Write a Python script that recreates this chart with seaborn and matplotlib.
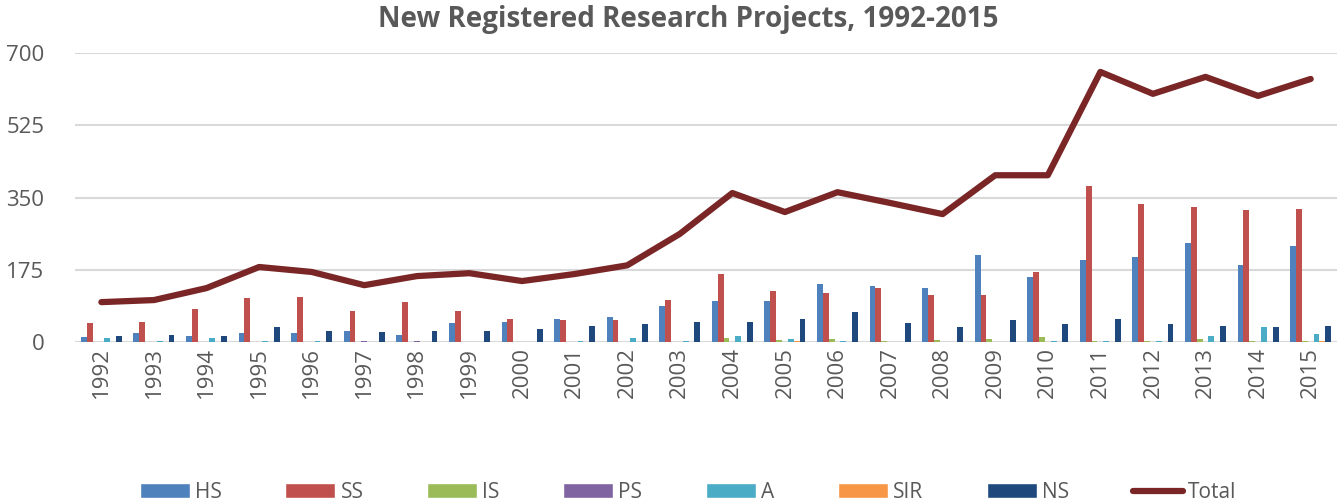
import numpy as np
import pandas as pd
import seaborn as sns
import matplotlib.pyplot as plt
from matplotlib.patches import Patch
from matplotlib.lines import Line2D

years = [str(y) for y in range(1992, 2016)]
fields = ["HS", "SS", "IS", "PS", "A", "SIR", "NS"]

hs = [13, 23, 16, 23, 22, 28, 17, 47, 48, 55, 60, 88, 99, 99, 140, 136, 132, 211, 159, 200, 206, 239, 187, 233]
ss = [46, 49, 80, 107, 109, 75, 98, 76, 55, 53, 53, 101, 165, 124, 119, 131, 115, 115, 171, 379, 335, 328, 320, 322]
is_ = [0, 0, 0, 0, 0, 0, 0, 0, 0, 0, 0, 1, 9, 5, 8, 3, 5, 7, 13, 3, 3, 7, 4, 2]
ps = [0, 0, 0, 0, 0, 2, 2, 1, 0, 0, 0, 0, 0, 0, 0, 0, 0, 1, 0, 0, 0, 0, 0, 0]
a = [9, 4, 10, 3, 3, 0, 0, 0, 0, 2, 11, 3, 15, 8, 2, 0, 0, 0, 4, 3, 2, 15, 36, 19]
sir = [0, 0, 0, 0, 0, 0, 0, 0, 0, 0, 0, 0, 0, 2, 0, 0, 0, 0, 0, 0, 0, 0, 0, 4]
ns = [14, 18, 14, 37, 27, 25, 26, 27, 32, 39, 44, 49, 48, 56, 73, 47, 38, 53, 45, 55, 45, 39, 36, 39]
total = [97, 102, 131, 182, 170, 138, 160, 167, 148, 165, 186, 262, 361, 315, 363, 337, 310, 404, 404, 654, 601, 642, 596, 637]

colors = ["#4F81BD", "#C0504D", "#9BBB59", "#8064A2", "#4BACC6", "#F79646", "#1F497D"]
total_color = "#7A2626"
gray = "#595959"

df = pd.DataFrame({"year": years, "HS": hs, "SS": ss, "IS": is_, "PS": ps,
                   "A": a, "SIR": sir, "NS": ns})
long = df.melt(id_vars="year", var_name="field", value_name="value")

sns.set_style("white")
plt.rcParams["font.family"] = ["Open Sans", "DejaVu Sans"]

fig = plt.figure(figsize=(13.41, 5.04), dpi=100)
ax = fig.add_axes([0.056, 0.321, 0.941, 0.574])

sns.barplot(data=long, x="year", y="value", hue="field", hue_order=fields,
            palette=colors, saturation=1, width=0.78, linewidth=0,
            ax=ax, legend=False)
sns.lineplot(x=np.arange(len(years)), y=total, color=total_color, linewidth=4.5,
             ax=ax, legend=False)

ax.set_ylim(0, 700)
ax.set_xlim(-0.5, len(years) - 0.5)
ax.set_yticks([0, 175, 350, 525, 700])
ax.yaxis.grid(True, color="#D9D9D9", linewidth=1.5)
ax.set_axisbelow(True)
for s in ax.spines.values():
    s.set_visible(False)
ax.tick_params(axis="both", length=0, colors=gray, labelsize=16)
ax.tick_params(axis="y", pad=22)
ax.set_xticks(np.arange(len(years)))
ax.set_xticklabels(years, rotation=90)
ax.set_xlabel("")
ax.set_ylabel("")

fig.suptitle("New Registered Research Projects, 1992-2015", x=0.513, y=0.99,
             fontsize=20, fontweight="bold", color=gray)

handles = [Patch(facecolor=c, label=f) for c, f in zip(colors, fields)]
handles.append(Line2D([0], [0], color=total_color, linewidth=4.5,
                      solid_capstyle="round", label="Total"))
fig.legend(handles=handles, loc="lower center", ncol=8, frameon=False,
           bbox_to_anchor=(0.513, -0.035), fontsize=15, labelcolor=gray,
           handlelength=2.4, handleheight=0.7, handletextpad=0.25,
           columnspacing=3.05)

fig.savefig("out.png", dpi=100)
plt.close(fig)
